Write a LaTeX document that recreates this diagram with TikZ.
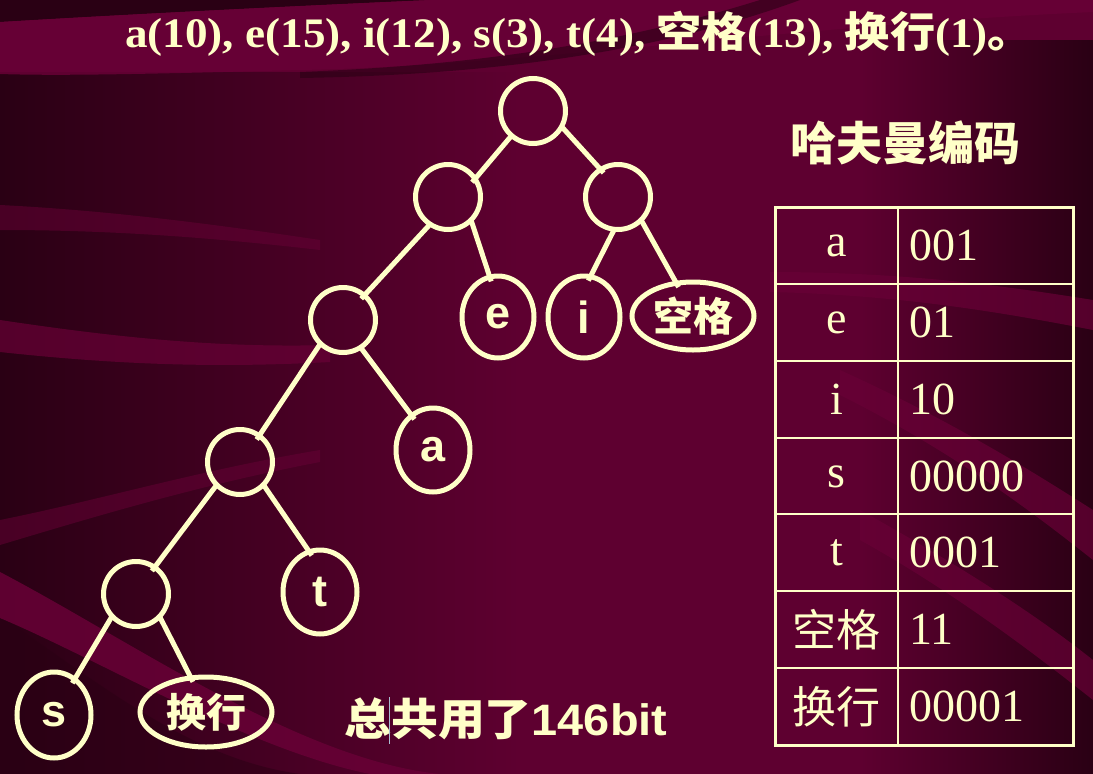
\documentclass[tikz,border=0pt]{standalone}
\usepackage{graphicx}
\usepackage{fontspec}
\setmainfont{Liberation Serif}
\newfontfamily\arialf{Liberation Sans}
\newfontfamily\cjk{Noto Sans CJK SC}
\usetikzlibrary{shapes.geometric}
\definecolor{cream}{RGB}{255,255,200}
\definecolor{bgmain}{RGB}{94,0,48}
\definecolor{bgdark}{RGB}{42,0,20}
\definecolor{bglight}{RGB}{104,0,54}
\begin{document}
\begin{tikzpicture}[x=1pt,y=-1pt,
  inode/.style={draw=cream, line width=5pt, circle, minimum size=65pt, inner sep=0pt},
  leaf/.style={draw=cream, line width=5pt, ellipse, inner sep=0pt, text=cream,
    font=\arialf\bfseries\fontsize{45}{45}\selectfont},
  cjkleaf/.style={leaf, font=\cjk\bfseries\fontsize{40}{40}\selectfont},
  edge/.style={draw=cream, line width=5pt, shorten <=-2pt, shorten >=-7pt},
  keycell/.style={text=cream, inner sep=0pt, font=\fontsize{46}{46}\selectfont},
  valcell/.style={text=cream, inner sep=0pt, anchor=west, font=\fontsize{46}{46}\selectfont},
  grid/.style={draw=cream, line width=2pt},
  band/.style={fill=bglight, fill opacity=0.85},
  darkband/.style={fill=bgdark, fill opacity=0.6}
]
% ---------- background ----------
\useasboundingbox (0,0) rectangle (1093,774);
\fill[bgmain] (0,0) rectangle (1093,774);
\shade[left color=bgdark, right color=bgmain] (0,72) rectangle (520,774);
\shade[left color=bgmain, right color=bgdark] (860,40) rectangle (1093,774);
% top dark corner
\fill[bgdark] (0,0) -- (430,0) .. controls (250,8) and (100,16) .. (0,22) -- cycle;
% top light band
\fill[band] (0,22) .. controls (100,16) and (250,8) .. (430,0) -- (1093,0) -- (1093,12)
  .. controls (800,25) and (520,66) .. (300,70) .. controls (150,74) and (60,76) .. (0,74) -- cycle;
% dark streak under title
\fill[darkband] (300,72) .. controls (450,66) and (600,50) .. (760,0) -- (800,0)
  .. controls (650,55) and (480,75) .. (300,78) -- cycle;
% thin light bands on the left
\fill[band, fill opacity=0.5] (0,205) .. controls (100,210) and (200,222) .. (320,240)
  -- (320,250) .. controls (200,236) and (100,230) .. (0,230) -- cycle;
\fill[band, fill opacity=0.7] (0,320) .. controls (120,338) and (220,348) .. (330,345)
  -- (330,362) .. controls (220,368) and (120,365) .. (0,352) -- cycle;
\fill[band, fill opacity=0.5] (0,520) .. controls (100,500) and (200,470) .. (320,450)
  -- (320,462) .. controls (200,485) and (100,515) .. (0,545) -- cycle;
% bottom light sweep
\fill[bgdark, fill opacity=0.5] (0,615) .. controls (120,700) and (200,760) .. (300,774) -- (0,774) -- cycle;
\fill[band] (0,572) .. controls (130,640) and (300,760) .. (440,774) -- (370,774)
  .. controls (250,750) and (100,660) .. (0,618) -- cycle;
% right side diagonal bands
\fill[band, fill opacity=0.7] (770,272) .. controls (900,272) and (1000,285) .. (1093,300)
  -- (1093,330) .. controls (1000,312) and (900,295) .. (770,292) -- cycle;
\fill[band, fill opacity=0.7] (840,370) .. controls (950,420) and (1030,470) .. (1093,510)
  -- (1093,560) .. controls (1030,510) and (950,450) .. (840,395) -- cycle;
\fill[band, fill opacity=0.7] (860,510) .. controls (950,560) and (1030,610) .. (1093,660)
  -- (1093,700) .. controls (1030,650) and (950,590) .. (860,540) -- cycle;

% ---------- title ----------
\node[anchor=base west, inner sep=0pt, text=cream, font=\bfseries\fontsize{42}{42}\selectfont]
  (title) at (125,47) {\scalebox{1.075}[1]{a(10), e(15), i(12), s(3), t(4), {\cjk 空格}(13), {\cjk 换行}(1){\cjk 。}}};

% ---------- tree ----------
\node[inode] (root) at (533,111) {};
\node[inode] (l1l) at (448,197) {};
\node[inode] (l1r) at (618,197) {};
\node[inode] (l2l) at (343,320) {};
\node[inode] (l3l) at (240,462) {};
\node[inode] (l4l) at (136,594) {};
\node[leaf, minimum width=72pt, minimum height=82pt] (e) at (498,317) {e};
\node[leaf, minimum width=72pt, minimum height=82pt] (i) at (584,317) {i};
\node[cjkleaf, minimum width=122pt, minimum height=68pt] (kg) at (693,316) {空格};
\node[leaf, minimum width=74pt, minimum height=84pt] (a) at (433,450) {a};
\node[leaf, minimum width=74pt, minimum height=84pt] (t) at (320,592) {t};
\node[leaf, minimum width=74pt, minimum height=86pt] (s) at (54,715) {s};
\node[cjkleaf, minimum width=132pt, minimum height=70pt] (hx) at (206,712) {换行};

\draw[edge] (root.-131) -- (l1l.35);
\draw[edge] (root.-30) -- (l1r.123);
\draw[edge] (l1l.-124) -- (l2l.49);
\draw[edge] (l1l.-47) -- (e.102);
\draw[edge] (l1r.-98) -- (i.80);
\draw[edge] (l1r.-46) -- (kg.117);
\draw[edge] (l2l.-133) -- (l3l.54);
\draw[edge] (l2l.-57) -- (a.122);
\draw[edge] (l3l.-135) -- (l4l.55);
\draw[edge] (l3l.-45) -- (t.106);
\draw[edge] (l4l.-136) -- (s.60);
\draw[edge] (l4l.-45) -- (hx.114);

% ---------- heading ----------
\node[text=cream, inner sep=0pt, font=\cjk\bfseries\fontsize{46}{46}\selectfont] (head) at (905,143) {哈夫曼编码};

% ---------- table ----------
\draw[grid, line width=3pt] (775,207) rectangle (1073,745);
\draw[grid] (898,207) -- (898,745);
\foreach \k in {1,...,6} {
  \draw[grid] (775,{207+76.857*\k}) -- (1073,{207+76.857*\k});
}
\node[keycell] (ka) at (836.5,246) {a};
\node[valcell] (va) at (909,245.4) {001};
\node[keycell] (ke) at (836.5,323) {e};
\node[valcell] (ve) at (909,322.3) {01};
\node[keycell] (ki) at (836.5,399.1) {i};
\node[valcell] (vi) at (909,399.1) {10};
\node[keycell] (ks) at (836.5,477) {s};
\node[valcell] (vs) at (909,476.0) {00000};
\node[keycell] (kt) at (836.5,552.9) {t};
\node[valcell] (vt) at (909,552.9) {0001};
\node[keycell, font=\cjk\fontsize{44}{44}\selectfont] (kkg) at (836.5,629.7) {空格};
\node[valcell] (vkg) at (909,629.7) {11};
\node[keycell, font=\cjk\fontsize{44}{44}\selectfont] (khx) at (836.5,706.6) {换行};
\node[valcell] (vhx) at (909,706.6) {00001};

% ---------- total ----------
\node[anchor=base west, inner sep=0pt, text=cream, font=\bfseries\fontsize{44}{44}\selectfont]
  (total) at (344,735) {\scalebox{1.066}[1]{{\cjk 总共用了}{\arialf 146bit}}};
\draw[draw={rgb,255:red,170;green,190;blue,210}, line width=0.8pt] (389,697) -- (389,744);
\end{tikzpicture}
\end{document}
